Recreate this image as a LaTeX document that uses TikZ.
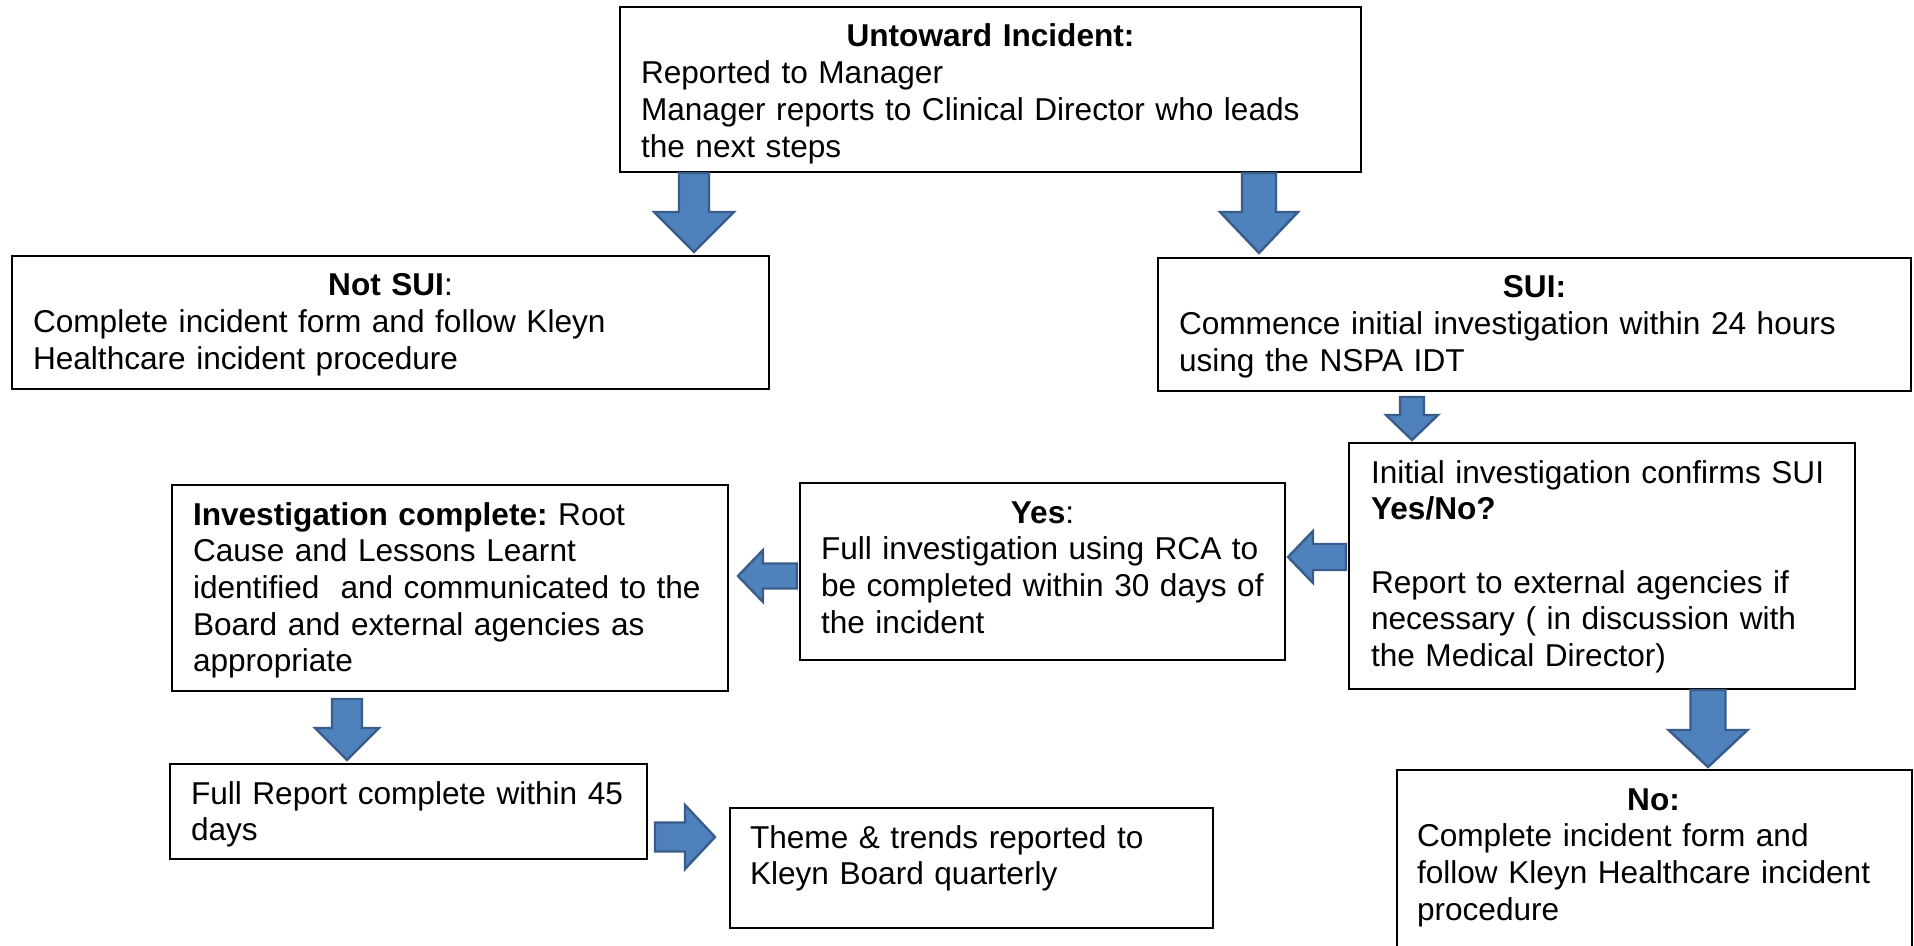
\documentclass[tikz,border=0pt]{standalone}
\usepackage{fontspec}
\setmainfont{Liberation Sans}
\definecolor{arrowfill}{HTML}{4F81BD}
\definecolor{arrowline}{HTML}{385D8A}
\newcommand\fs{\rule{0pt}{13pt}}
\newcommand\oneline[1]{\mbox{#1}}
\newcommand\heading[1]{\fs\makebox[\linewidth]{#1}}
\tikzset{
  box/.style={draw=black, line width=1.1pt, fill=white, inner sep=0pt, outer sep=0pt, anchor=north west},
  txt/.style={inner sep=0pt, outer sep=0pt, anchor=north west, align=left, font=\fontsize{15.8pt}{18.35pt}\selectfont},
  barrow/.style={fill=arrowfill, draw=arrowline, line width=1.2pt, line join=miter}
}
% vertical block arrow: cx, ytop, ybase, ytip, half shaft, half head
\newcommand\blockv[6]{\filldraw[barrow] (#1-#5,#2) -- (#1+#5,#2) -- (#1+#5,#3) -- (#1+#6,#3) -- (#1,#4) -- (#1-#6,#3) -- (#1-#5,#3) -- cycle;}
% horizontal block arrow: cy, xtail, xbase, xtip, half shaft, half head
\newcommand\blockh[6]{\filldraw[barrow] (#2,#1-#5) -- (#2,#1+#5) -- (#3,#1+#5) -- (#3,#1+#6) -- (#4,#1) -- (#3,#1-#6) -- (#3,#1-#5) -- cycle;}
\begin{document}
\begin{tikzpicture}[x=0.5pt,y=-0.5pt]
\useasboundingbox (0,0) rectangle (1914,946);
\clip (0,0) rectangle (1914,946);
\fill[white] (0,0) rectangle (1914,946);

% boxes
\node[box, minimum width=370.5pt, minimum height=82.5pt] (b1) at (620,7) {};
\node[box, minimum width=378.5pt, minimum height=66.5pt] (b2) at (12,256) {};
\node[box, minimum width=376.5pt, minimum height=66.5pt] (b3) at (1158,258) {};
\node[box, minimum width=253pt, minimum height=123pt] (b4) at (1349,443) {};
\node[box, minimum width=242.5pt, minimum height=88.5pt] (b5) at (800,483) {};
\node[box, minimum width=278pt, minimum height=103pt] (b6) at (172,485) {};
\node[box, minimum width=238.5pt, minimum height=47.5pt] (b7) at (170,764) {};
\node[box, minimum width=241.5pt, minimum height=60pt] (b8) at (730,808) {};
\node[box, minimum width=257.5pt, minimum height=105pt] (b9) at (1397,770) {};

% texts
\node[txt, text width=349.5pt] (t1) at ([xshift=10.5pt,yshift=-7pt]b1.north west)
  {\heading{\textbf{Untoward Incident:}}\\
   \oneline{Reported to Manager}\\
   \oneline{Manager reports to Clinical Director who leads}\\
   \oneline{the next steps}};
\node[txt, text width=357.5pt] (t2) at ([xshift=10.5pt,yshift=-7pt]b2.north west)
  {\heading{\textbf{Not SUI}:}\\
   \oneline{Complete incident form and follow Kleyn}\\
   \oneline{Healthcare incident procedure}};
\node[txt, text width=355.5pt] (t3) at ([xshift=10.5pt,yshift=-7pt]b3.north west)
  {\heading{\textbf{SUI:}}\\
   \oneline{Commence initial investigation within 24 hours}\\
   \oneline{using the NSPA IDT}};
\node[txt, text width=232pt] (t4) at ([xshift=11pt,yshift=-7pt]b4.north west)
  {\fs\oneline{Initial investigation confirms SUI}\\
   \oneline{\textbf{Yes/No?}}\\[18.35pt]
   \oneline{Report to external agencies if}\\
   \oneline{necessary ( in discussion with}\\
   \oneline{the Medical Director)}};
\node[txt, text width=221.5pt] (t5) at ([xshift=10.5pt,yshift=-7pt]b5.north west)
  {\heading{\textbf{Yes}:}\\
   \oneline{Full investigation using RCA to}\\
   \oneline{be completed within 30 days of}\\
   \oneline{the incident}};
\node[txt, text width=257pt] (t6) at ([xshift=10.5pt,yshift=-7pt]b6.north west)
  {\fs\oneline{\textbf{Investigation complete:}~Root}\\
   \oneline{Cause and Lessons Learnt}\\
   \oneline{identified\ \ and communicated to the}\\
   \oneline{Board and external agencies as}\\
   \oneline{appropriate}};
\node[txt, text width=217.5pt] (t7) at ([xshift=10.5pt,yshift=-7pt]b7.north west)
  {\fs\oneline{Full Report complete within 45}\\
   \oneline{days}};
\node[txt, text width=220.5pt] (t8) at ([xshift=10pt,yshift=-7pt]b8.north west)
  {\fs\oneline{Theme \& trends reported to}\\
   \oneline{Kleyn Board quarterly}};
\node[txt, text width=236.5pt] (t9) at ([xshift=10pt,yshift=-7pt]b9.north west)
  {\heading{\textbf{No:}}\\
   \oneline{Complete incident form and}\\
   \oneline{follow Kleyn Healthcare incident}\\
   \oneline{procedure}};

% block arrows
\blockv{694}{173}{212}{252}{15}{40}
\blockv{1259}{173}{212}{253}{17}{39}
\blockv{1412}{397}{415}{440}{12}{26}
\blockh{557}{1346}{1313}{1288}{13}{26}
\blockh{576}{797}{763}{738}{12.5}{26}
\blockv{347}{699}{728}{760}{15}{32}
\blockh{837}{655}{685}{715}{14.5}{32}
\blockv{1708}{690}{730}{767}{17.5}{39.5}
\end{tikzpicture}
\end{document}
